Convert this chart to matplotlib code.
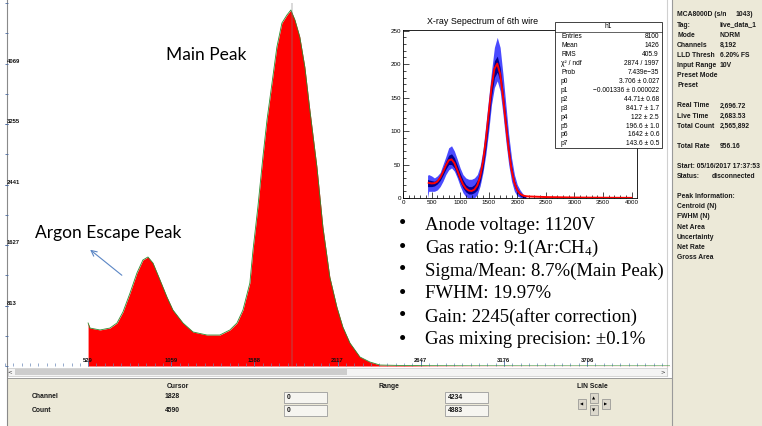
import matplotlib
matplotlib.use("Agg")
import matplotlib.pyplot as plt
from matplotlib.patches import Rectangle
from matplotlib.ticker import MultipleLocator

plt.rcParams['mathtext.fontset'] = 'custom'
plt.rcParams['mathtext.rm'] = 'Liberation Serif'
plt.rcParams['mathtext.it'] = 'Liberation Serif:italic'

# MCA spectrum (channel, counts)
mca_channel = [529, 541, 605, 668, 713, 751, 796, 840, 878, 910, 942, 987, 1031, 1069,
               1133, 1197, 1286, 1368, 1432, 1477, 1515, 1559, 1579, 1610, 1642, 1668,
               1700, 1731, 1763, 1795, 1820, 1846, 1877, 1909, 1941, 1986, 2024, 2068,
               2113, 2151, 2196, 2260, 2323, 2387, 2500, 2700, 3000, 3500, 4234]
mca_count = [579, 511, 485, 511, 579, 727, 982, 1252, 1427, 1467, 1386, 1157, 929, 754,
             579, 458, 417, 417, 485, 579, 754, 1117, 1561, 2140, 2813, 3311,
             3809, 4293, 4616, 4724, 4791, 4657, 4428, 4024, 3445, 2678, 1871, 1198,
             794, 525, 310, 121, 54, 13, 8, 4, 2, 1, 1]
x_tick_vals = [529, 1059, 1588, 2117, 2647, 3176, 3706]
y_tick_vals = [813, 1627, 2441, 3255, 4069]
cursor_channel = 1828

# ROOT inset: histogram band (outer = error spikes, inner = bin contents) and fit
inset_ch = [430, 450, 500, 550, 600, 650, 700, 750, 800, 850, 900, 950, 1000, 1050,
            1100, 1150, 1200, 1250, 1300, 1350, 1400, 1450, 1500, 1550, 1600, 1650,
            1700, 1750, 1800, 1850, 1900, 1950, 2000, 2050, 2100, 2150]
outer_hi = [34, 35, 33, 30, 33, 38, 50, 62, 75, 78, 70, 58, 45, 35, 30, 28, 28, 30, 35,
            48, 72, 110, 150, 190, 225, 240, 225, 185, 140, 95, 60, 35, 20, 12, 6, 2]
outer_lo = [0, 10, 10, 10, 12, 17, 25, 35, 42, 45, 40, 30, 18, 8, 2, 0, 0, 0, 5, 18,
            38, 65, 100, 140, 165, 175, 160, 125, 85, 50, 25, 10, 3, 1, 0, 0]
inner_hi = [28, 27, 26, 25, 28, 34, 44, 55, 64, 66, 60, 49, 37, 27, 20, 17, 17, 20, 27,
            41, 66, 100, 140, 178, 205, 212, 195, 160, 120, 80, 48, 26, 14, 8, 4, 2]
inner_lo = [17, 17, 17, 18, 21, 26, 34, 43, 50, 50, 45, 34, 24, 15, 9, 6, 6, 8, 12, 24,
            44, 74, 112, 152, 180, 188, 174, 142, 100, 64, 36, 17, 8, 3, 1, 0]
fit_ch = [450, 500, 550, 600, 650, 700, 750, 800, 850, 900, 950, 1000, 1050, 1100, 1150,
          1200, 1250, 1300, 1350, 1400, 1450, 1500, 1550, 1600, 1650, 1700, 1750, 1800,
          1850, 1900, 1950, 2000, 2050, 2100, 2150, 2200, 2500, 3000, 3500, 4000]
fit_val = [22.6, 21.8, 22.1, 24.5, 30.2, 38.8, 48.6, 56.2, 57.7, 52.1, 41.5, 30.0, 20.4,
           14.3, 11.2, 10.5, 12.6, 18.7, 31.5, 53.8, 86.3, 126.1, 165.3, 193.1, 200.8,
           185.4, 152.1, 111.0, 72.2, 42.1, 22.7, 11.6, 6.1, 3.7, 2.7, 2.3, 1.4, 0.7, 0.4, 0.2]

stat_names = ['Entries', 'Mean', 'RMS', '\u03c7\u00b2 / ndf', 'Prob', 'p0', 'p1', 'p2',
              'p3', 'p4', 'p5', 'p6', 'p7']
stat_values = ['8100', '1426', '405.9', '2874 / 1997', '7.439e\u221235',
               '3.706 \u00b1 0.027', '\u22120.001336 \u00b1 0.000022', '44.71\u00b1 0.68',
               '841.7 \u00b1 1.7', '122 \u00b1 2.5', '196.6 \u00b1 1.0', '1642 \u00b1 0.6',
               '143.6 \u00b1 0.5']

bullets = ['Anode voltage: 1120V', 'Gas ratio: 9:1(Ar:CH$_4$)',
           'Sigma/Mean: 8.7%(Main Peak)', 'FWHM: 19.97%',
           'Gain: 2245(after correction)', 'Gas mixing precision: \u00b10.1%']

# right side status panel: (row, label, value)
panel_rows = [(0, 'MCA8000D (s/n', '1043)'), (1, 'Tag:', 'live_data_1'), (2, 'Mode', 'NORM'),
              (3, 'Channels', '8,192'), (4, 'LLD Thresh', '6.20% FS'),
              (5, 'Input Range', '10V'), (6, 'Preset Mode', ''), (7, 'Preset', ''),
              (9, 'Real Time', '2,696.72'), (10, 'Live Time', '2,683.53'),
              (11, 'Total Count', '2,565,892'), (13, 'Total Rate', '956.16'),
              (15, 'Start: 05/16/2017 17:37:53', ''), (16, 'Status:', 'disconnected'),
              (18, 'Peak Information:', ''), (19, 'Centroid (N)', ''), (20, 'FWHM (N)', ''),
              (21, 'Net Area', ''), (22, 'Uncertainty', ''), (23, 'Net Rate', ''),
              (24, 'Gross Area', '')]

W, H = 762, 426
BEIGE = '#ECE9D8'
fig = plt.figure(figsize=(W / 100, H / 100), dpi=100)

# background layer in pixel coordinates
bg = fig.add_axes([0, 0, 1, 1], zorder=0)
bg.set_xlim(0, W)
bg.set_ylim(H, 0)
bg.axis('off')
bg.add_patch(Rectangle((672, 0), 90, H, color=BEIGE, lw=0))
bg.plot([672, 672], [0, H], color='#9a9a9a', lw=0.8)
bg.add_patch(Rectangle((7, 378), 665, 48, color=BEIGE, lw=0))
bg.plot([7, 672], [378, 378], color='#9a9a9a', lw=0.7)
bg.plot([7, 7], [0, H], color='#8a8a8a', lw=0.8)
bg.plot([667, 667], [0, 376], color='#d0d0d0', lw=0.8)
# scrollbar
bg.add_patch(Rectangle((8, 368), 659, 8, facecolor='#f4f4f4', edgecolor='#c8c8c8', lw=0.5))
bg.add_patch(Rectangle((15, 369), 332, 6, facecolor='#cdcdcd', lw=0))
bg.text(10, 372, '<', fontsize=4, ha='center', va='center', color='#333333')
bg.text(663, 372, '>', fontsize=4, ha='center', va='center', color='#333333')

lab = dict(fontsize=4.9, fontweight='bold', family='Liberation Sans', color='#1a1a1a', va='center')
bg.text(178, 386, 'Cursor', ha='center', **lab)
bg.text(389, 386, 'Range', ha='center', **lab)
bg.text(592, 386, 'LIN Scale', ha='center', **lab)
bg.text(32, 397, 'Channel', ha='left', **lab)
bg.text(32, 410, 'Count', ha='left', **lab)
bg.text(165, 396, '1828', ha='left', **lab)
bg.text(165, 410, '4590', ha='left', **lab)
for bx, by, txt in [(284, 392, '0'), (445, 392, '4234'), (284, 405, '0'), (445, 405, '4883')]:
    bg.add_patch(Rectangle((bx, by), 43, 11, facecolor='#f6f5f0', edgecolor='#9c9c9c', lw=0.6))
    bg.text(bx + 3, by + 5.5, txt, ha='left', **lab)
for bx, by, sym in [(590, 393, '\u25b2'), (590, 405, '\u25bc'), (578, 399, '\u25c0'), (602, 399, '\u25b6')]:
    bg.add_patch(Rectangle((bx, by), 8, 10, facecolor='#dcd8cc', edgecolor='#8c8c8c', lw=0.5))
    bg.text(bx + 4, by + 5, sym, fontsize=3, ha='center', va='center', family='DejaVu Sans')

for row, name, value in panel_rows:
    y = 15 + row * 10.1
    bg.text(677, y, name, ha='left', **lab)
    if value:
        vx = 736 if name.startswith('MCA') else (712 if name == 'Status:' else 720)
        bg.text(vx, y, value, ha='left', **lab)

# main MCA spectrum
ax = fig.add_axes([5 / W, 60 / H, 665 / W, 362.8 / H], zorder=1)
ax.patch.set_visible(False)
ax.fill_between(mca_channel, 0, mca_count, color='#ff0000', lw=0)
ax.plot(mca_channel, mca_count, color='#2e8b2e', lw=0.6)
ax.axvline(cursor_channel, color='gray', alpha=0.35, lw=1.2)
ax.set_xlim(0, 4234)
ax.set_ylim(0, 4883)
for s in ['top', 'right', 'bottom', 'left']:
    ax.spines[s].set_visible(False)
ax.set_xticks(x_tick_vals)
ax.set_xticklabels([str(v) for v in x_tick_vals], fontsize=4.2, fontweight='bold',
                   family='Liberation Sans')
ax.xaxis.set_minor_locator(MultipleLocator(52.94))
ax.set_yticks(y_tick_vals)
ax.set_yticklabels([str(v) for v in y_tick_vals], fontsize=4.2, fontweight='bold',
                   family='Liberation Sans', ha='left', va='bottom')
ax.yaxis.set_minor_locator(MultipleLocator(406.9))
ax.tick_params(axis='x', which='major', direction='in', length=4, width=0.6,
               color='#4a6aa0', labelcolor='#111111', pad=-6)
ax.tick_params(axis='x', which='minor', direction='in', length=2, width=0.5, color='#6a88b8')
ax.tick_params(axis='y', which='both', direction='in', length=2, width=0.6,
               color='#4a6aa0', labelcolor='#111111', pad=-1.5)

# ROOT inset
ax_in = fig.add_axes([403 / W, 1 - 198 / H, 234 / W, 168 / H], zorder=2)
ax_in.fill_between(inset_ch, outer_lo, outer_hi, color='#4a4aff', lw=0)
ax_in.fill_between(inset_ch, inner_lo, inner_hi, color='#000090', lw=0)
ax_in.plot(fit_ch, fit_val, color='#ff0000', lw=1.4)
ax_in.set_xlim(0, 4096)
ax_in.set_ylim(0, 251)
ax_in.xaxis.set_major_locator(MultipleLocator(500))
ax_in.xaxis.set_minor_locator(MultipleLocator(100))
ax_in.yaxis.set_major_locator(MultipleLocator(50))
ax_in.yaxis.set_minor_locator(MultipleLocator(10))
ax_in.tick_params(which='major', direction='in', length=4, width=0.5, labelsize=4.5, pad=1.5)
ax_in.tick_params(which='minor', direction='in', length=2, width=0.5)
for t in ax_in.get_xticklabels() + ax_in.get_yticklabels():
    t.set_family('Liberation Sans')
for s in ax_in.spines.values():
    s.set_linewidth(0.6)
ax_in.text(0.338, 1.05, 'X-ray Sepectrum of 6th wire', transform=ax_in.transAxes,
           ha='center', va='center', fontsize=6.4, family='Liberation Sans')

# overlay: stats box, bullets, annotations
top = fig.add_axes([0, 0, 1, 1], zorder=5)
top.set_xlim(0, W)
top.set_ylim(H, 0)
top.axis('off')
top.add_patch(Rectangle((555, 22), 107, 126, facecolor='white', edgecolor='#222222', lw=0.6))
top.plot([555, 662], [32, 32], color='#222222', lw=0.5)
top.text(608, 27, 'h1', ha='center', va='center', fontsize=4.8, family='Liberation Sans')
for i, (n, v) in enumerate(zip(stat_names, stat_values)):
    y = 36.5 + i * 8.95
    top.text(561, y, n, ha='left', va='center', fontsize=4.8, family='Liberation Sans')
    top.text(659, y, v, ha='right', va='center', fontsize=4.8, family='Liberation Sans')

for i, b in enumerate(bullets):
    y = 225 + i * 23
    top.text(403, y, '\u2022', ha='center', va='center', fontsize=15, family='Liberation Serif')
    top.text(425, y, b, ha='left', va='center', fontsize=13.5, family='Liberation Serif')

top.text(206, 55, 'Main Peak', ha='center', va='center', fontsize=12.5, family='Lato')
top.text(108, 233, 'Argon Escape Peak', ha='center', va='center', fontsize=12.5, family='Lato')
top.annotate('', xy=(88, 248), xytext=(124, 277),
             arrowprops=dict(arrowstyle='->', color='#5b86c5', lw=0.8))

fig.savefig('out.png', dpi=100)
